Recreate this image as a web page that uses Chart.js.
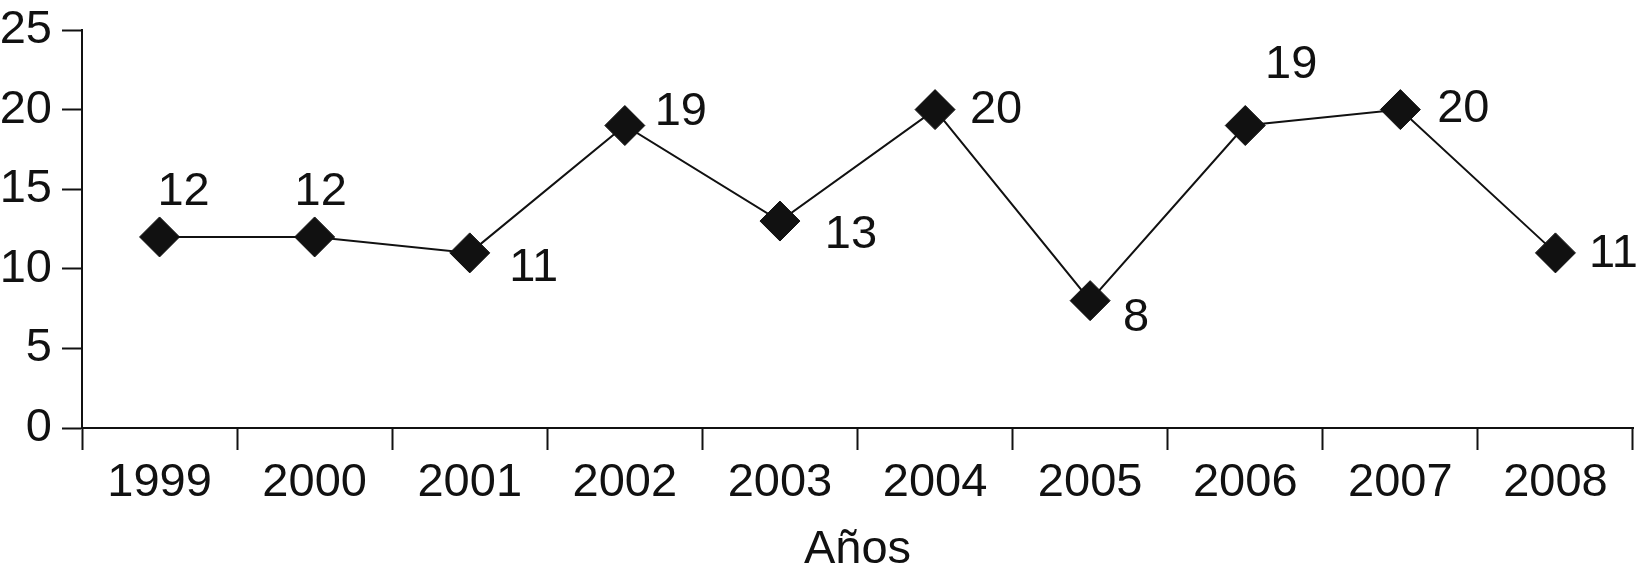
<!DOCTYPE html>
<html>
<head>
<meta charset="utf-8">
<script src="https://cdn.jsdelivr.net/npm/chart.js@4/dist/chart.umd.min.js"></script>
<style>
    html, body { margin: 0; padding: 0; background: #fff; }
    #wrap { width: 1639px; height: 578px; position: relative; }
</style>
</head>
<body>
<div id="wrap"><canvas id="lineChart"></canvas></div>
<script>
// chart data
const years = ['1999', '2000', '2001', '2002', '2003', '2004', '2005', '2006', '2007', '2008'];
const values = [12, 12, 11, 19, 13, 20, 8, 19, 20, 11];
const yTicks = [0, 5, 10, 15, 20, 25];
const xTitle = 'Años';

// where each value label sits relative to its marker (dx, dy in px)
const labelOffsets = [
    [24, -45], [6, -45], [64, 15], [56, -13], [71, 14],
    [61, 0], [46, 17], [46, -60], [63, -1], [58, 1]
];

const FONT = "'Liberation Sans', Arial, sans-serif";
const INK = '#111';
const SIZE = 47;

// Draw the number next to each diamond
const valueLabels = {
    id: 'valueLabels',
    afterDatasetsDraw(chart) {
        const ctx = chart.ctx;
        const meta = chart.getDatasetMeta(0);
        ctx.save();
        ctx.font = `${SIZE}px ${FONT}`;
        ctx.fillStyle = INK;
        ctx.textAlign = 'center';
        ctx.textBaseline = 'middle';
        meta.data.forEach((pt, i) => {
            const off = labelOffsets[i] || [0, 0];
            ctx.fillText(String(values[i]), pt.x + off[0], pt.y + off[1]);
        });
        ctx.restore();
    }
};

const ctx = document.getElementById('lineChart').getContext('2d');

new Chart(ctx, {
    type: 'line',
    data: {
        labels: years,
        datasets: [{
            data: values,
            borderColor: INK,
            borderWidth: 2,
            backgroundColor: INK,
            pointStyle: 'rectRot',
            pointRadius: 20,
            pointBorderWidth: 1,
            pointBorderColor: INK,
            pointBackgroundColor: INK,
            tension: 0,
            fill: false,
            clip: false
        }]
    },
    options: {
        responsive: true,
        maintainAspectRatio: false,
        animation: false,
        layout: { autoPadding: false, padding: { top: 30, right: 6, left: 0, bottom: 0 } },
        plugins: {
            legend: { display: false },
            tooltip: { enabled: false }
        },
        scales: {
            x: {
                offset: true,
                grid: {
                    offset: true,
                    drawOnChartArea: false,
                    drawTicks: true,
                    tickLength: 22,
                    tickWidth: 2,
                    tickColor: INK
                },
                border: { color: INK, width: 2 },
                ticks: {
                    color: INK,
                    font: { family: FONT, size: SIZE },
                    padding: 5,
                    maxRotation: 0,
                    autoSkip: false
                },
                title: {
                    display: true,
                    text: xTitle,
                    color: INK,
                    font: { family: FONT, size: SIZE },
                    padding: { top: 0, bottom: 0 }
                },
                afterFit(scale) {
                    scale.height = 150;
                    scale.paddingLeft = 0;
                    scale.paddingRight = 0;
                }
            },
            y: {
                min: yTicks[0],
                max: yTicks[yTicks.length - 1],
                afterBuildTicks(scale) {
                    scale.ticks = yTicks.map(v => ({ value: v }));
                },
                grid: {
                    drawOnChartArea: false,
                    drawTicks: true,
                    tickLength: 20,
                    tickWidth: 2,
                    tickColor: INK
                },
                border: { color: INK, width: 2 },
                ticks: {
                    color: INK,
                    font: { family: FONT, size: SIZE },
                    padding: 10
                },
                afterFit(scale) {
                    scale.width = 82;
                    scale.paddingTop = 0;
                    scale.paddingBottom = 0;
                }
            }
        }
    },
    plugins: [valueLabels]
});
</script>
</body>
</html>
